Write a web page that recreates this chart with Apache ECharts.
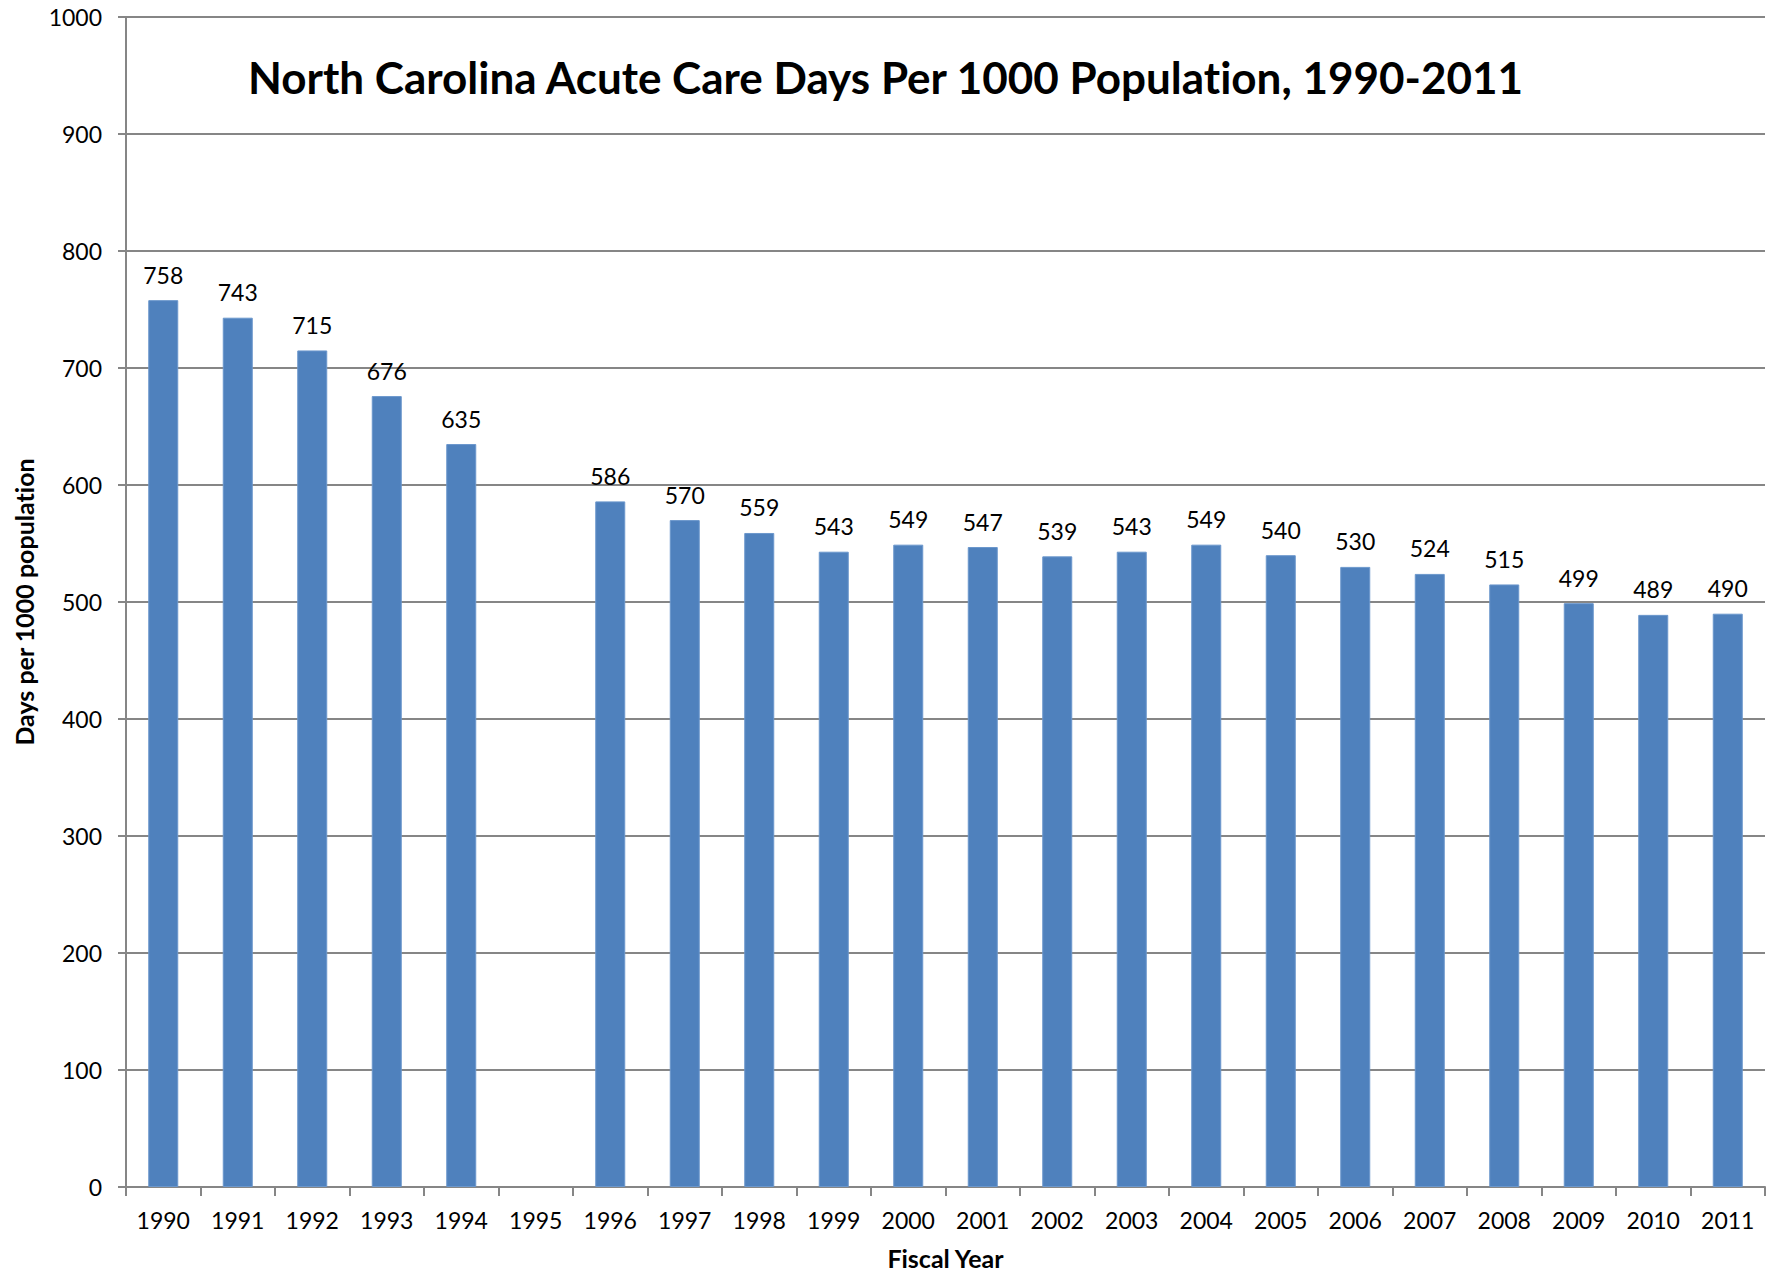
<!DOCTYPE html>
<html>
<head>
<meta charset="utf-8">
<script src="https://cdn.jsdelivr.net/npm/echarts@6/dist/echarts.min.js"></script>
<style>html,body{margin:0;padding:0;background:#fff}#c{width:1780px;height:1275px}#c text{font-variant-ligatures:none;font-feature-settings:"liga" 0,"clig" 0}</style>
</head>
<body>
<div id="c"></div>
<script>
const categories = ['1990','1991','1992','1993','1994','1995','1996','1997','1998','1999','2000','2001','2002','2003','2004','2005','2006','2007','2008','2009','2010','2011'];
const values = [758,743,715,676,635,null,586,570,559,543,549,547,539,543,549,540,530,524,515,499,489,490];
const yTicks = {min:0, max:1000, interval:100};
const titleText = 'North Carolina Acute Care Days Per 1000 Population, 1990-2011';

const FONT = 'Lato';
const chart = echarts.init(document.getElementById('c'), null, {renderer:'svg'});
chart.setOption({
  animation:false,
  backgroundColor:'#fff',
  title:{
    text:titleText, left:243, top:50,
    textStyle:{fontFamily:FONT, fontWeight:'bold', fontSize:44, color:'#000'}
  },
  grid:{left:126, right:15, top:17, bottom:88, containLabel:false},
  xAxis:{
    type:'category', data:categories,
    name:'Fiscal Year', nameLocation:'middle', nameGap:58,
    nameTextStyle:{fontFamily:FONT, fontWeight:'bold', fontSize:25, color:'#000'},
    axisLine:{lineStyle:{color:'#868686', width:2}},
    axisTick:{show:true, alignWithLabel:false, length:9, lineStyle:{color:'#868686', width:2}},
    axisLabel:{fontFamily:FONT, fontSize:23, color:'#000', margin:21, interval:0}
  },
  yAxis:{
    type:'value', min:yTicks.min, max:yTicks.max, interval:yTicks.interval,
    name:'Days per 1000 population', nameLocation:'middle', nameGap:90,
    nameTextStyle:{fontFamily:FONT, fontWeight:'bold', fontSize:25, color:'#000'},
    axisLine:{show:true, lineStyle:{color:'#868686', width:2}},
    axisTick:{show:true, length:8, lineStyle:{color:'#868686', width:2}},
    axisLabel:{fontFamily:FONT, fontSize:23, color:'#000', margin:24, formatter:function(v){return String(v);}},
    splitLine:{lineStyle:{color:'#868686', width:2}}
  },
  series:[{
    type:'bar', data:values, barWidth:30,
    itemStyle:{color:'#4F81BD', borderColor:'#6b97cc', borderWidth:1},
    label:{show:true, position:'top', distance:14, fontFamily:FONT, fontSize:23, color:'#000'}
  }]
});
</script>
</body>
</html>
